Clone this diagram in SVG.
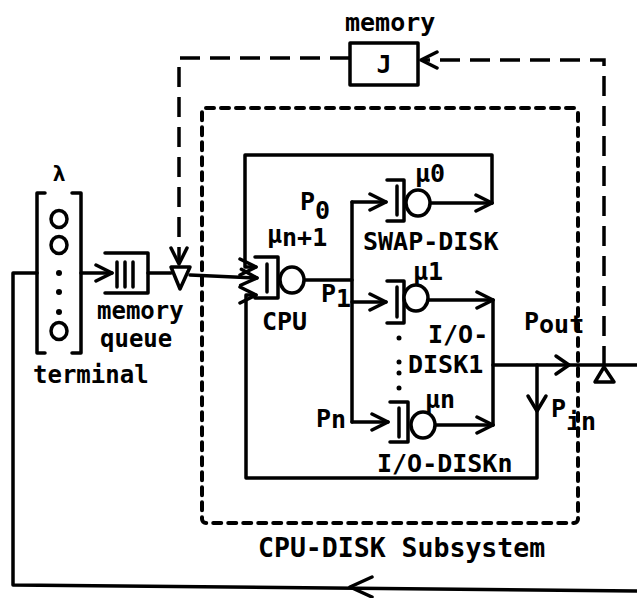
<svg xmlns="http://www.w3.org/2000/svg" width="637" height="598" viewBox="0 0 637 598">
<defs>
<style>
.ln{fill:none;stroke:#000;stroke-width:3.5;stroke-linecap:round;stroke-linejoin:round}
.dash{fill:none;stroke:#000;stroke-width:3.5;stroke-dasharray:20 10;stroke-linecap:butt}
.dot{fill:none;stroke:#000;stroke-width:4;stroke-dasharray:8 7;stroke-linecap:round}
.srv{fill:#fff;stroke:#000;stroke-width:3.5}
.t{font-family:"DejaVu Sans Mono","Liberation Mono",monospace;font-size:25px;font-weight:bold;fill:#000}
</style>
<marker id="ah" markerUnits="userSpaceOnUse" markerWidth="24" markerHeight="24" refX="19" refY="10" orient="auto">
<path d="M3,2 L19,10 L3,18" fill="none" stroke="#000" stroke-width="3.5" stroke-linecap="round" stroke-linejoin="round"/>
</marker>
</defs>
<rect width="637" height="598" fill="#fff"/>

<g id="connectors">
<path class="ln" d="M37,273 H13 V585 L637,591"/>
<path class="ln" d="M372,577 L350,587 L372,597"/>
<path class="ln" d="M81,273 H112" marker-end="url(#ah)"/>
<path class="ln" d="M148,273 H171"/>
<path class="ln" d="M190,275 L257,278" marker-end="url(#ah)"/>
<path class="dash" d="M350,58 H179 V264" marker-end="url(#ah)"/>
<path class="dash" d="M604,366 V60 H421" marker-end="url(#ah)"/>
<path class="ln" d="M304,280 H352"/>
<path class="ln" d="M352,202 V422"/>
<path class="ln" d="M352,202 H386" marker-end="url(#ah)"/>
<path class="ln" d="M352,302 H386" marker-end="url(#ah)"/>
<path class="ln" d="M352,422 H388" marker-end="url(#ah)"/>
<path class="ln" d="M431,203 H492" marker-end="url(#ah)"/>
<path class="ln" d="M492,203 V155 H245 V267 H256" marker-end="url(#ah)"/>
<path class="ln" d="M429,300 H493" marker-end="url(#ah)"/>
<path class="ln" d="M436,425 H493" marker-end="url(#ah)"/>
<path class="ln" d="M493,300 V425"/>
<path class="ln" d="M493,365 H637"/>
<path class="ln" d="M556,356 L569,365 L556,374"/>
<path class="ln" d="M537,365 V478 H246 V295 H256" marker-end="url(#ah)"/>
<path class="ln" d="M528,396 L537,411 L546,396"/>
</g>

<g id="subsystem">
<rect class="dot" x="202" y="108" width="376" height="415" rx="4"/>
<text class="t" x="258" y="557" style="font-size:26.5px">CPU-DISK Subsystem</text>
</g>

<g id="terminal">
<path class="ln" d="M45,193 H37 V353 H45"/>
<path class="ln" d="M72,193 H81 V353 H72"/>
<ellipse class="srv" cx="59" cy="219" rx="8" ry="8.5"/>
<ellipse class="srv" cx="59" cy="245" rx="8" ry="8.5"/>
<circle cx="59" cy="273" r="3"/>
<circle cx="59" cy="292" r="3"/>
<circle cx="59" cy="312" r="3"/>
<ellipse class="srv" cx="59" cy="331" rx="8" ry="8.5"/>
<text class="t" x="59" y="181" text-anchor="middle" style="font-size:22px">λ</text>
<text class="t" x="33" y="383" style="font-size:24px">terminal</text>
</g>

<g id="memory-queue">
<path class="ln" d="M105,253 H148 V293 H105"/>
<path class="ln" d="M117,262 V287 M125,262 V287 M133,262 V287"/>
<text class="t" x="97" y="319" style="font-size:24px">memory</text>
<text class="t" x="100" y="347" style="font-size:24px">queue</text>
</g>

<g id="memory-gate">
<path class="ln" d="M171,267 H190 L180,289 Z" fill="#fff"/>
</g>

<g id="memory">
<rect class="ln" x="350" y="43" width="68" height="42"/>
<text class="t" x="384" y="73" text-anchor="middle">J</text>
<text class="t" x="345" y="31">memory</text>
</g>

<g id="cpu">
<path class="ln" d="M255,257 H278 V298 H255"/>
<path class="ln" d="M267,264 V292"/>
<ellipse class="srv" cx="292" cy="280" rx="12" ry="13"/>
<text class="t" x="267" y="243">μ<tspan dy="3">n+1</tspan></text>
<text class="t" x="262" y="330">CPU</text>
<text class="t" x="300" y="210">P<tspan dy="9">0</tspan></text>
<text class="t" x="321" y="302">P<tspan dy="5">1</tspan></text>
<text class="t" x="316" y="427">P<tspan dy="1">n</tspan></text>
</g>

<g id="swap-disk">
<path class="ln" d="M387,180 H404 V221 H387"/>
<path class="ln" d="M397,186 V215"/>
<ellipse class="srv" cx="418" cy="203" rx="12" ry="13"/>
<text class="t" x="415" y="182">μ0</text>
<text class="t" x="363" y="250">SWAP-DISK</text>
</g>

<g id="io-disk1">
<path class="ln" d="M387,281 H404 V323 H387"/>
<path class="ln" d="M397,287 V317"/>
<ellipse class="srv" cx="416" cy="298" rx="12" ry="13"/>
<text class="t" x="413" y="280">μ1</text>
<text class="t" x="428" y="343">I/O-</text>
<text class="t" x="408" y="373">DISK1</text>
<circle cx="399" cy="338" r="2.5"/>
<circle cx="399" cy="362" r="2.5"/>
<circle cx="399" cy="373" r="2.5"/>
<circle cx="399" cy="388" r="2.5"/>
</g>

<g id="io-diskn">
<path class="ln" d="M390,402 H408 V442 H390"/>
<path class="ln" d="M399,408 V437"/>
<ellipse class="srv" cx="423" cy="425" rx="12" ry="13"/>
<text class="t" x="425" y="408">μn</text>
<text class="t" x="377" y="472">I/O-DISKn</text>
</g>

<g id="split">
<path class="ln" d="M595,382 H614 L604,367 Z" fill="#fff"/>
<text class="t" x="524" y="330">P<tspan dy="3">out</tspan></text>
<text class="t" x="551" y="417">P<tspan dy="13">in</tspan></text>
</g>
</svg>
